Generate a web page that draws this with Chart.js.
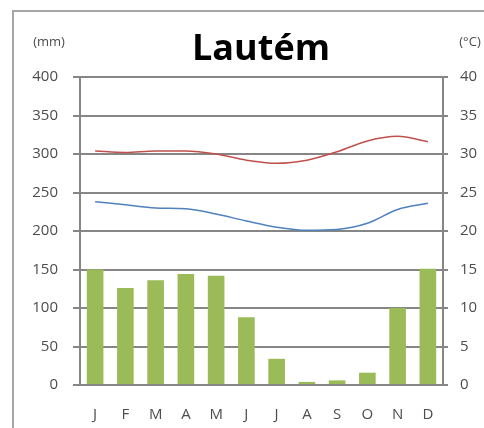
<!DOCTYPE html>
<html>
<head>
<meta charset="utf-8">
<script src="https://cdn.jsdelivr.net/npm/chart.js@4"></script>
<style>
  html, body { margin: 0; padding: 0; background: #fff; }
  #wrap { position: relative; width: 484px; height: 428px; }
  #frame { position: absolute; left: 12px; top: 10px; width: 480px; height: 430px;
           border-left: 2px solid #a6a6a6; border-top: 2px solid #a6a6a6; }
  canvas { position: absolute; left: 0; top: 0; }
</style>
</head>
<body>
<div id="wrap">
  <div id="frame"></div>
  <canvas id="climateChart" width="484" height="428"></canvas>
</div>
<script>
// Climograma Lautém
const months = ['J', 'F', 'M', 'A', 'M', 'J', 'J', 'A', 'S', 'O', 'N', 'D'];
const rainMm = [150, 126, 136, 144, 142, 88, 34, 4, 6, 16, 100, 151];
const maxTemp = [30.4, 30.2, 30.4, 30.4, 30.0, 29.2, 28.8, 29.2, 30.3, 31.7, 32.3, 31.6];
const minTemp = [23.8, 23.4, 23.0, 22.9, 22.2, 21.3, 20.5, 20.1, 20.2, 21.0, 22.8, 23.6];
const mmTicks = [0, 50, 100, 150, 200, 250, 300, 350, 400];
const cTicks = [0, 5, 10, 15, 20, 25, 30, 35, 40];

const gridGrey = '#868686';
const textGrey = '#4d4d4d';

// titulo y unidades
const labelsPlugin = {
    id: 'labels',
    afterDraw(chart) {
        const ctx = chart.ctx;
        ctx.save();
        ctx.fillStyle = '#000';
        ctx.font = 'bold 36px "Open Sans"';
        ctx.textAlign = 'center';
        ctx.textBaseline = 'middle';
        ctx.fillText('Lautém', 261, 50);
        ctx.fillStyle = textGrey;
        ctx.font = '13px "Open Sans"';
        ctx.fillText('(mm)', 49, 42);
        ctx.fillText('(°C)', 470, 42);
        ctx.restore();
    }
};

const ctx = document.getElementById('climateChart').getContext('2d');
const climateChart = new Chart(ctx, {
    type: 'bar',
    data: {
        labels: months,
        datasets: [
            {
                type: 'line',
                label: 'Máx',
                data: maxTemp,
                yAxisID: 'y1',
                borderColor: '#c0504d',
                borderWidth: 1.5,
                pointRadius: 0,
                cubicInterpolationMode: 'monotone',
                order: 1
            },
            {
                type: 'line',
                label: 'Mín',
                data: minTemp,
                yAxisID: 'y1',
                borderColor: '#4f81bd',
                borderWidth: 1.5,
                pointRadius: 0,
                cubicInterpolationMode: 'monotone',
                order: 2
            },
            {
                label: 'Precipitación',
                data: rainMm,
                yAxisID: 'y',
                backgroundColor: '#9bbb59',
                barPercentage: 0.55,
                categoryPercentage: 1,
                order: 3
            }
        ]
    },
    options: {
        responsive: false,
        animation: false,
        layout: { padding: { top: 77, right: 0, bottom: 0, left: 0 } },
        plugins: {
            legend: { display: false },
            tooltip: { enabled: false }
        },
        scales: {
            x: {
                offset: true,
                grid: { display: false },
                border: { color: gridGrey, width: 2 },
                ticks: { color: textGrey, font: { family: 'Open Sans', size: 15 }, padding: 13 },
                afterFit: s => { s.height = 43; }
            },
            y: {
                position: 'left',
                min: 0, max: 400,
                afterBuildTicks: s => { s.ticks = mmTicks.map(v => ({ value: v })); },
                ticks: { color: textGrey, font: { family: 'Open Sans', size: 15 }, padding: 15 },
                grid: { color: gridGrey, lineWidth: 2, tickLength: 7, tickColor: gridGrey },
                border: { color: gridGrey, width: 2 },
                afterFit: s => { s.width = 80; }
            },
            y1: {
                position: 'right',
                min: 0, max: 40,
                afterBuildTicks: s => { s.ticks = cTicks.map(v => ({ value: v })); },
                ticks: { color: textGrey, font: { family: 'Open Sans', size: 15 }, padding: 12 },
                grid: { drawOnChartArea: false, lineWidth: 2, tickLength: 5, tickColor: gridGrey },
                border: { color: gridGrey, width: 2 },
                afterFit: s => { s.width = 41; }
            }
        }
    },
    plugins: [labelsPlugin]
});
</script>
</body>
</html>
